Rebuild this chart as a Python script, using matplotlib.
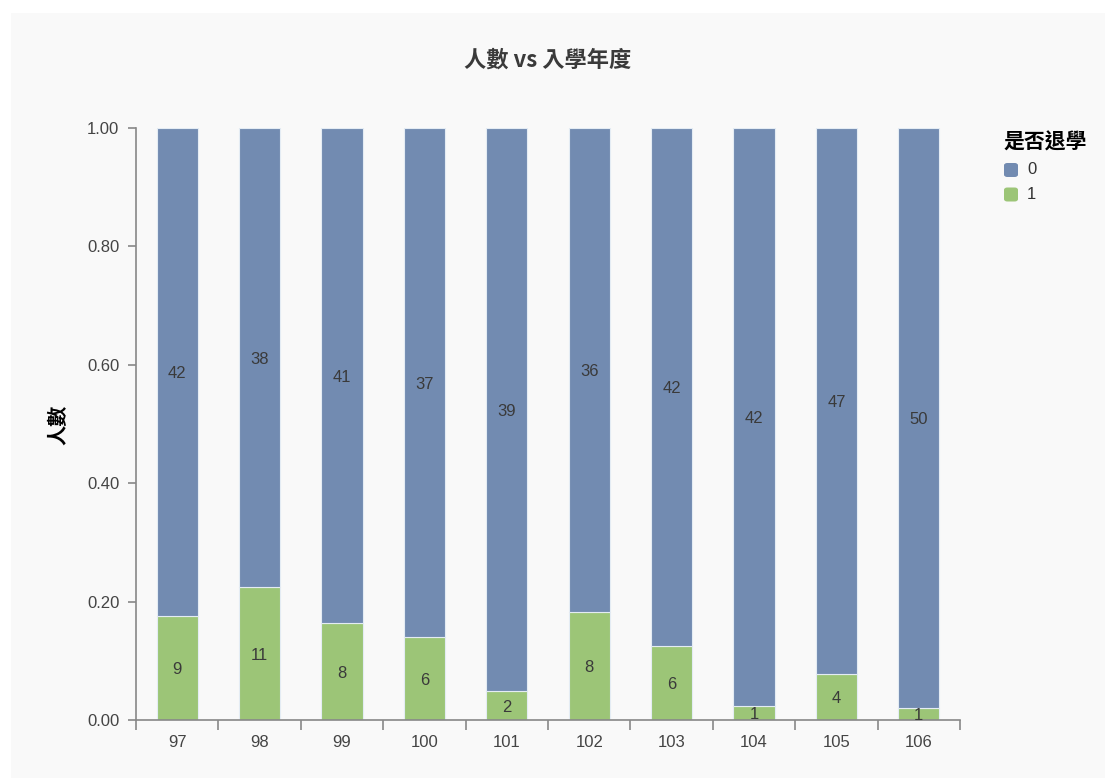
import matplotlib
matplotlib.use("Agg")
import matplotlib.pyplot as plt
from matplotlib.patches import FancyBboxPatch, Rectangle
import numpy as np

categories = ["97", "98", "99", "100", "101", "102", "103", "104", "105", "106"]
count_0 = [42, 38, 41, 37, 39, 36, 42, 42, 47, 50]
count_1 = [9, 11, 8, 6, 2, 8, 6, 1, 4, 1]
legend_title = "是否退學"
series_names = ["0", "1"]
title = "人數 vs 入學年度"
ylabel = "人數"

BLUE = "#728bb1"
GREEN = "#9cc577"
BG = "#f9f9f9"
CJK = ["Noto Sans CJK TC", "DejaVu Sans"]
NUM = ["Liberation Sans", "DejaVu Sans"]

fig = plt.figure(figsize=(11.05, 7.78), dpi=100, facecolor="white")
fig.patches.append(Rectangle((11 / 1105, 0), 1 - 11 / 1105, 1 - 13 / 778,
                             transform=fig.transFigure, facecolor=BG,
                             edgecolor="none", zorder=-10))

ax = fig.add_axes([136 / 1105, 1 - 720 / 778, (960 - 136) / 1105, (720 - 128) / 778])
ax.set_facecolor("none")
ax.set_zorder(1)

c0 = np.array(count_0, dtype=float)
c1 = np.array(count_1, dtype=float)
tot = c0 + c1
f1 = c1 / tot
f0 = c0 / tot
x = np.arange(len(categories))
w = 0.5
ax.bar(x, f1, width=w, color=GREEN, edgecolor="#e4ecf4", linewidth=0.8, zorder=2)
ax.bar(x, f0, width=w, bottom=f1, color=BLUE, edgecolor="#e4ecf4", linewidth=0.8, zorder=2)

for i in range(len(categories)):
    ax.text(x[i], f1[i] / 2, str(count_1[i]), ha="center", va="center_baseline",
            fontsize=12, color="#3a3a3a", family=NUM, zorder=3)
    ax.text(x[i], f1[i] + f0[i] / 2, str(count_0[i]), ha="center", va="center_baseline",
            fontsize=12, color="#3a3a3a", family=NUM, zorder=3)

ax.set_xlim(-0.5, len(categories) - 0.5)
ax.set_ylim(0, 1)
ax.set_yticks([0, 0.2, 0.4, 0.6, 0.8, 1.0])
ax.set_yticklabels(["0.00", "0.20", "0.40", "0.60", "0.80", "1.00"], family=NUM)
ax.set_xticks(x)
ax.set_xticklabels(categories, family=NUM)
ax.set_xticks(np.arange(len(categories) + 1) - 0.5, minor=True)
ax.tick_params(axis="x", which="major", length=0, pad=11, labelsize=12, labelcolor="#444444")
ax.tick_params(axis="x", which="minor", length=7, width=1.2, color="#888888")
ax.tick_params(axis="y", length=6, width=1.2, color="#888888", pad=6,
               labelsize=12, labelcolor="#444444")
for s in ["top", "right"]:
    ax.spines[s].set_visible(False)
for s in ["left", "bottom"]:
    ax.spines[s].set_color("#888888")
    ax.spines[s].set_linewidth(1.2)

fig.text(548 / 1105, 1 - 60 / 778, title, ha="center", va="center",
         fontsize=16, fontweight="bold", color="#3a3a3a", family=CJK)
fig.text(58 / 1105, 1 - 425 / 778, ylabel, ha="center", va="center", rotation=90,
         fontsize=14.5, fontweight="bold", color="#000000", family=CJK)

# legend
fig.text(1003 / 1105, 1 - 142 / 778, legend_title, ha="left", va="center",
         fontsize=15, fontweight="bold", color="#000000", family=CJK)
for j, (name, col) in enumerate(zip(series_names, [BLUE, GREEN])):
    yc = 170 + j * 24.5
    fig.patches.append(FancyBboxPatch(((1004) / 1105, 1 - (yc + 7) / 778),
                                      14 / 1105, 14 / 778,
                                      boxstyle="round,pad=0,rounding_size=0.003",
                                      transform=fig.transFigure, facecolor=col,
                                      edgecolor="none", zorder=3))
    fig.text(1027 / 1105, 1 - yc / 778, name, ha="left", va="center",
             fontsize=12, color="#333333", family=NUM)

fig.savefig("out.png", dpi=100, facecolor="white")
